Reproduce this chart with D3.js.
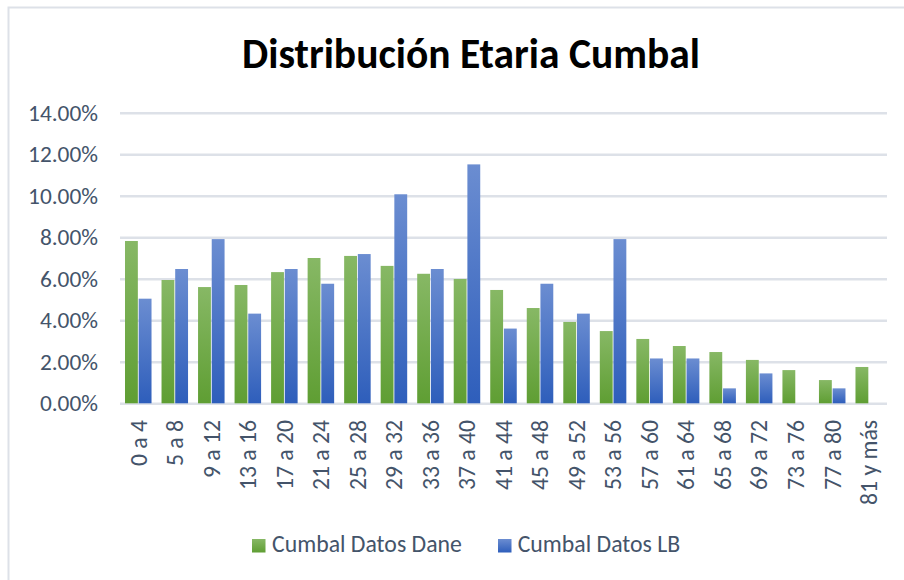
<!DOCTYPE html>
<html>
<head>
<meta charset="utf-8">
<script src="https://cdn.jsdelivr.net/npm/d3@7"></script>
<style>
  body { margin: 0; background: #fff; }
  svg { display: block; }
  .grid line { stroke: #dde1e8; stroke-width: 2.5; }
</style>
</head>
<body>
<div id="chart"></div>
<script>
// data
const categories = ["0 a 4", "5 a 8", "9 a 12", "13 a 16", "17 a 20", "21 a 24", "25 a 28",
  "29 a 32", "33 a 36", "37 a 40", "41 a 44", "45 a 48", "49 a 52", "53 a 56", "57 a 60",
  "61 a 64", "65 a 68", "69 a 72", "73 a 76", "77 a 80", "81 y más"];
const seriesNames = ["Cumbal Datos Dane", "Cumbal Datos LB"];
const daneValues = [0.0782, 0.0594, 0.0560, 0.0570, 0.0632, 0.0700, 0.0710, 0.0662, 0.0624,
  0.0599, 0.0546, 0.0459, 0.0392, 0.0348, 0.0310, 0.0276, 0.0247, 0.0209, 0.0160, 0.0112, 0.0175];
const lbValues = [0.0504, 0.0647, 0.0791, 0.0432, 0.0647, 0.0576, 0.0719, 0.1007, 0.0647,
  0.1151, 0.0360, 0.0576, 0.0432, 0.0791, 0.0216, 0.0216, 0.0072, 0.0144, 0, 0.0072, 0];
const yTicks = [0, 0.02, 0.04, 0.06, 0.08, 0.10, 0.12, 0.14];
const titleText = "Distribución Etaria Cumbal";

const W = 904, H = 580;
const plot = {left: 120, right: 887, top: 112.7, bottom: 403.3};
const fontFamily = "Carlito, Calibri, Lato, sans-serif";
const textColor = "#44546a";

const svg = d3.select("#chart").append("svg")
    .attr("width", W)
    .attr("height", H)
    .style("font-family", fontFamily);

// pick a font size that gives the measured width
function fitSize(sample, target, weight) {
  const t = svg.append("text").attr("font-size", 100).attr("font-weight", weight || "normal").text(sample);
  const w = t.node().getComputedTextLength();
  t.remove();
  return 100 * target / w;
}

const defs = svg.append("defs");
function gradient(id, top, bottom) {
  const g = defs.append("linearGradient").attr("id", id)
      .attr("x1", 0).attr("y1", 0).attr("x2", 0).attr("y2", 1);
  g.append("stop").attr("offset", "0%").attr("stop-color", top);
  g.append("stop").attr("offset", "100%").attr("stop-color", bottom);
}
gradient("gGreen", "#87b865", "#5f9e33");
gradient("gBlue", "#6b8dd1", "#2e5ebb");
const fills = ["url(#gGreen)", "url(#gBlue)"];

// chart area border (only top and left visible)
svg.append("rect")
    .attr("x", 8.5).attr("y", 7.5)
    .attr("width", 1000).attr("height", 1000)
    .attr("fill", "none")
    .attr("stroke", "#dde1e8")
    .attr("stroke-width", 2);

// title
const titleSize = fitSize(titleText, 458, "bold");
svg.append("text")
    .attr("x", 471).attr("y", 68.3)
    .attr("text-anchor", "middle")
    .attr("font-weight", "bold")
    .attr("font-size", titleSize)
    .attr("fill", "#000")
    .text(titleText);

// scales
const x0 = d3.scaleBand()
    .domain(categories)
    .range([plot.left, plot.right])
    .paddingInner(0.274)
    .paddingOuter(0.137);

const x1 = d3.scaleBand()
    .domain([0, 1])
    .range([0, x0.bandwidth()])
    .paddingInner(0.06);

const y = d3.scaleLinear()
    .domain([0, 0.14])
    .range([plot.bottom, plot.top]);

// y axis + gridlines
const tickSize = fitSize("14.00%", 70);
const yAxis = svg.append("g")
    .attr("class", "grid")
    .attr("transform", "translate(" + plot.left + ",0)")
    .call(d3.axisLeft(y)
      .tickValues(yTicks)
      .tickFormat(d3.format(".2%"))
      .tickSize(-(plot.right - plot.left))
      .tickPadding(22));
yAxis.select(".domain").remove();
yAxis.selectAll("text")
    .attr("fill", textColor)
    .attr("font-size", tickSize)
    .attr("font-family", fontFamily);

// bars
const rows = categories.map((c, i) => ({cat: c, values: [daneValues[i], lbValues[i]]}));

const groups = svg.append("g").selectAll("g")
    .data(rows)
    .enter().append("g")
    .attr("transform", d => "translate(" + x0(d.cat) + ",0)");

groups.selectAll("rect")
    .data(d => d.values.map((v, k) => ({k: k, v: v})))
    .enter().append("rect")
    .attr("x", d => x1(d.k))
    .attr("y", d => y(d.v))
    .attr("width", x1.bandwidth())
    .attr("height", d => y(0) - y(d.v))
    .attr("fill", d => fills[d.k]);

// x axis labels, rotated
const catSize = fitSize("81 y más", 85);
const xAxis = svg.append("g")
    .attr("transform", "translate(0," + plot.bottom + ")")
    .call(d3.axisBottom(x0).tickSize(0).tickPadding(0));
xAxis.select(".domain").remove();
xAxis.selectAll("text")
    .attr("fill", textColor)
    .attr("font-size", catSize)
    .attr("font-family", fontFamily)
    .attr("text-anchor", "end")
    .attr("y", 0)
    .attr("x", 0)
    .attr("dy", "0.35em")
    .attr("transform", "translate(0,16.7) rotate(-90)");

// legend
const legSize = fitSize(seriesNames[0], 190);
const legendPos = [{sx: 252, tx: 272}, {sx: 498, tx: 517.7}];
const legend = svg.append("g").selectAll("g")
    .data(seriesNames)
    .enter().append("g");

legend.append("rect")
    .attr("x", (d, i) => legendPos[i].sx)
    .attr("y", 539)
    .attr("width", 13.5)
    .attr("height", 13.5)
    .attr("fill", (d, i) => fills[i]);

legend.append("text")
    .attr("x", (d, i) => legendPos[i].tx)
    .attr("y", 552)
    .attr("font-size", legSize)
    .attr("fill", textColor)
    .text(d => d);
</script>
</body>
</html>
